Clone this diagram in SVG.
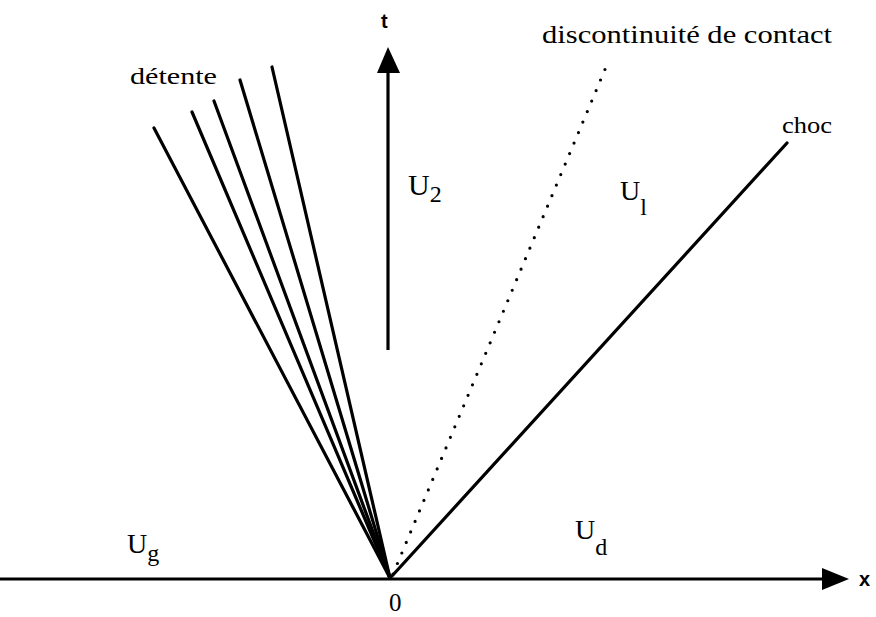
<svg xmlns="http://www.w3.org/2000/svg" width="876" height="617" viewBox="0 0 876 617">
<style>
.ln{stroke:#000;stroke-width:3.2;fill:none;stroke-linecap:round}
.dot{stroke:#000;stroke-width:3.2;fill:none;stroke-linecap:round;stroke-dasharray:0 11.4}
.lb{font-family:"Liberation Serif","Times New Roman",serif;fill:#000}
.ax{font-family:"Liberation Sans",Arial,sans-serif;font-weight:bold;fill:#000}
</style>
<rect width="876" height="617" fill="#fff"/>
<g id="connectors">
<line id="x-axis" class="ln" x1="0" y1="579" x2="824" y2="579" style="stroke-linecap:butt"/>
<polygon id="x-arrow" points="822,568 849,579 822,590" fill="#000"/>
<line id="t-axis" class="ln" x1="388" y1="350" x2="388" y2="70" style="stroke-linecap:butt"/>
<polygon id="t-arrow" points="377,73 388,47 400,73" fill="#000"/>
<line class="ln" x1="390" y1="578" x2="154" y2="128"/>
<line class="ln" x1="390" y1="578" x2="192" y2="112"/>
<line class="ln" x1="390" y1="578" x2="214" y2="101"/>
<line class="ln" x1="390" y1="578" x2="240" y2="80"/>
<line class="ln" x1="390" y1="578" x2="272" y2="67"/>
<line class="dot" x1="393" y1="574" x2="606" y2="67"/>
<line class="ln" x1="392" y1="576" x2="787" y2="143"/>
</g>
<g id="labels">
<text class="lb" x="130" y="84" font-size="24" textLength="87" lengthAdjust="spacingAndGlyphs">détente</text>
<text class="lb" x="542" y="43" font-size="26" textLength="290" lengthAdjust="spacingAndGlyphs">discontinuité de contact</text>
<text class="lb" x="782" y="133" font-size="24" textLength="50" lengthAdjust="spacingAndGlyphs">choc</text>
<text class="ax" x="381" y="28" font-size="20">t</text>
<text class="ax" x="859" y="586" font-size="20">x</text>
<text class="lb" x="389" y="611" font-size="25">0</text>
<text class="lb" x="408" y="195" font-size="30">U<tspan font-size="24" dy="7">2</tspan></text>
<text class="lb" x="620" y="200" font-size="28">U<tspan font-size="24" dy="15">l</tspan></text>
<text class="lb" x="127" y="553" font-size="28">U<tspan font-size="24" dy="8">g</tspan></text>
<text class="lb" x="575" y="539" font-size="28">U<tspan font-size="24" dy="16">d</tspan></text>
</g>
</svg>
